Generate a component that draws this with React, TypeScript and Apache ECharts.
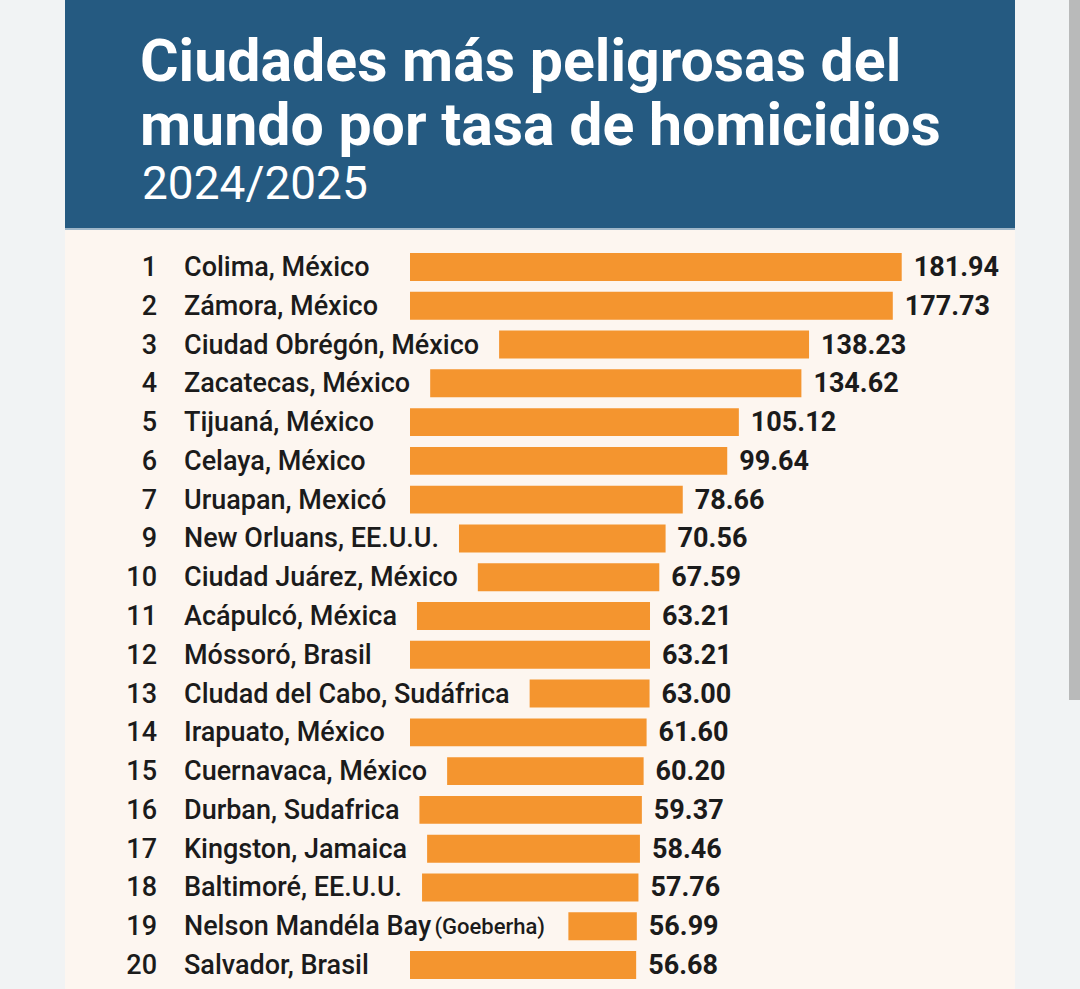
import React, { useEffect, useRef } from "react";
import * as echarts from "echarts";

const ranks = [1, 2, 3, 4, 5, 6, 7, 9, 10, 11, 12, 13, 14, 15, 16, 17, 18, 19, 20];
const cities = [
  "Colima, México",
  "Zámora, México",
  "Ciudad Obrégón, México",
  "Zacatecas, México",
  "Tijuaná, México",
  "Celaya, México",
  "Uruapan, Mexicó",
  "New Orluans, EE.U.U.",
  "Ciudad Juárez, México",
  "Acápulcó, Méxica",
  "Móssoró, Brasil",
  "Cludad del Cabo, Sudáfrica",
  "Irapuato, México",
  "Cuernavaca, México",
  "Durban, Sudafrica",
  "Kingston, Jamaica",
  "Baltimoré, EE.U.U.",
  "Nelson Mandéla Bay",
  "Salvador, Brasil",
];
const cityNotes = ["", "", "", "", "", "", "", "", "", "", "", "", "", "", "", "", "", "(Goeberha)", ""];
const rates = [181.94, 177.73, 138.23, 134.62, 105.12, 99.64, 78.66, 70.56, 67.59, 63.21, 63.21, 63.0, 61.6, 60.2, 59.37, 58.46, 57.76, 56.99, 56.68];

const titleLines = ["Ciudades más peligrosas del", "mundo por tasa de homicidios"];
const subtitle = "2024/2025";

const FAMILY = "Roboto, 'Liberation Sans', Arial, sans-serif";
const NAME_FONT = `500 27px ${FAMILY}`;
const NOTE_FONT = `500 22px ${FAMILY}`;
const VALUE_FONT = `bold 27px ${FAMILY}`;
const TEXT_COLOR = "#1b1b1b";
const BAR_COLOR = "#f4952f";

const RANK_RIGHT = 157;
const NAME_LEFT = 184;
const X_MIN = -50;
const X_MAX = 200;

function measure(text: string, font: string): number {
  const ctx = document.createElement("canvas").getContext("2d");
  if (!ctx) return text.length * 13;
  ctx.font = font;
  return ctx.measureText(text).width;
}

export default function App() {
  const ref = useRef<HTMLDivElement>(null);

  useEffect(() => {
    if (!ref.current) return;
    const chart = echarts.init(ref.current, undefined, { renderer: "svg" });

    const labelEnds = cities.map((c, i) => {
      let w = measure(c, NAME_FONT);
      if (cityNotes[i]) w += measure(" ", NAME_FONT) + measure(cityNotes[i], NOTE_FONT);
      return NAME_LEFT + w;
    });

    const option: any = {
      animation: false,
      backgroundColor: "#f1f3f4",
      grid: { left: 410, right: 140, top: 247.6, bottom: 4.6, containLabel: false, outerBoundsMode: "none" },
      xAxis: { type: "value", min: X_MIN, max: X_MAX, show: false },
      yAxis: { type: "category", data: cities, inverse: true, show: false },
      graphic: [
        { type: "rect", z: -10, shape: { x: 65, y: 0, width: 950, height: 228 }, style: { fill: "#255a81" } },
        { type: "rect", z: -10, shape: { x: 65, y: 228, width: 950, height: 2 }, style: { fill: "#9fb6c8" } },
        { type: "rect", z: -10, shape: { x: 65, y: 230, width: 950, height: 759 }, style: { fill: "#fdf6f0" } },
        { type: "rect", z: -10, shape: { x: 1069, y: 0, width: 11, height: 700 }, style: { fill: "#b9baba" } },
        {
          type: "text",
          z: 10,
          style: { text: titleLines[0], x: 140, y: 60, fill: "#ffffff", font: `bold 59px ${FAMILY}`, verticalAlign: "middle", textVerticalAlign: "middle" },
        },
        {
          type: "text",
          z: 10,
          style: { text: titleLines[1], x: 140, y: 124, fill: "#ffffff", font: `bold 59px ${FAMILY}`, verticalAlign: "middle", textVerticalAlign: "middle" },
        },
        {
          type: "text",
          z: 10,
          style: { text: subtitle, x: 142, y: 183, fill: "#ffffff", font: `400 46px ${FAMILY}`, verticalAlign: "middle", textVerticalAlign: "middle" },
        },
      ],
      series: [
        {
          type: "custom",
          encode: { x: 0, y: 1 },
          data: rates.map((v, i) => [v, i]),
          renderItem: (params: any, api: any) => {
            const i = params.dataIndex;
            const v = api.value(0);
            const end = api.coord([v, i]);
            const base = api.coord([X_MIN, i]);
            const band = api.size([0, 1])[1];
            const h = band * 0.72;
            const y = end[1];
            const start = Math.max(base[0], labelEnds[i] + 20);
            const note = cityNotes[i];
            const nameText = note ? `{n|${cities[i]}} {s|${note}}` : `{n|${cities[i]}}`;
            return {
              type: "group",
              children: [
                {
                  type: "text",
                  style: {
                    text: String(ranks[i]),
                    x: RANK_RIGHT,
                    y,
                    fill: TEXT_COLOR,
                    font: NAME_FONT,
                    align: "right",
                    textAlign: "right",
                    verticalAlign: "middle",
                    textVerticalAlign: "middle",
                  },
                },
                {
                  type: "text",
                  style: {
                    text: nameText,
                    x: NAME_LEFT,
                    y,
                    fill: TEXT_COLOR,
                    align: "left",
                    textAlign: "left",
                    verticalAlign: "middle",
                    textVerticalAlign: "middle",
                    rich: {
                      n: { font: NAME_FONT, fill: TEXT_COLOR, color: TEXT_COLOR, fontSize: 27, fontWeight: 500, fontFamily: FAMILY },
                      s: { font: NOTE_FONT, fill: TEXT_COLOR, color: TEXT_COLOR, fontSize: 22, fontWeight: 500, fontFamily: FAMILY },
                    },
                  },
                },
                {
                  type: "rect",
                  shape: { x: start, y: y - h / 2, width: end[0] - start, height: h },
                  style: { fill: BAR_COLOR },
                },
                {
                  type: "text",
                  style: {
                    text: v.toFixed(2),
                    x: end[0] + 12,
                    y,
                    fill: TEXT_COLOR,
                    font: VALUE_FONT,
                    align: "left",
                    textAlign: "left",
                    verticalAlign: "middle",
                    textVerticalAlign: "middle",
                  },
                },
              ],
            };
          },
        },
      ],
    };

    chart.setOption(option);
    return () => chart.dispose();
  }, []);

  return <div ref={ref} style={{ position: "fixed", left: 0, top: 0, width: 1080, height: 989 }} />;
}
